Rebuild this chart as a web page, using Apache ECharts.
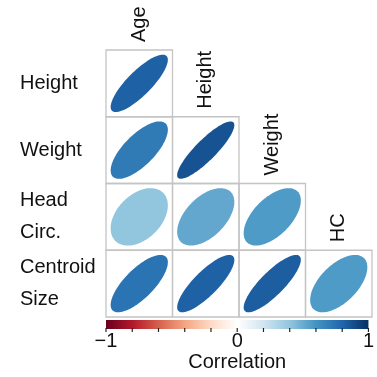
<!DOCTYPE html>
<html>
<head>
<meta charset="utf-8">
<script src="https://cdn.jsdelivr.net/npm/echarts@6/dist/echarts.min.js"></script>
<style>
html,body{margin:0;padding:0;background:#fff;}
#chart{width:377px;height:377px;}
</style>
</head>
<body>
<div id="chart"></div>
<script>
// Column (x) variables and row (y) variables of the lower-triangle correlation matrix
const colVars = ['Age', 'Height', 'Weight', 'HC'];
const rowVars = ['Height', 'Weight', 'Head\nCirc.', 'Centroid\nSize'];
// Correlations of each row variable with the column variables (left to right)
const corrHeight = [0.82];
const corrWeight = [0.71, 0.87];
const corrHeadCirc = [0.40, 0.52, 0.57];
const corrCentroid = [0.74, 0.82, 0.83, 0.57];
// Colour bar tick positions and labelled ticks
const barTicks = [-1, -0.8, -0.6, -0.4, -0.2, 0, 0.2, 0.4, 0.6, 0.8, 1];
const barTickLabels = [-1, 0, 1];
const palette = ['#67001F', '#B2182B', '#D6604D', '#F4A582', '#FDDBC7', '#FFFFFF',
                 '#D1E5F0', '#92C5DE', '#4393C3', '#2166AC', '#053061'];

const rows = [corrHeight, corrWeight, corrHeadCirc, corrCentroid];
const cells = [];
rows.forEach((vals, r) => vals.forEach((v, c) => cells.push([c, r, v])));
const diagLabels = colVars.map((name, i) => [i, i, name]);

const FONT = 'Liberation Sans, Arial, sans-serif';
const chart = echarts.init(document.getElementById('chart'), null, {renderer: 'canvas'});

chart.setOption({
  animation: false,
  backgroundColor: '#fff',
  grid: [
    {left: 106, right: 5, top: 50, bottom: 60},
    {left: 106, right: 5, top: 320, height: 9}
  ],
  xAxis: [
    {type: 'category', data: colVars, gridIndex: 0, show: false},
    {type: 'value', gridIndex: 1, min: -1, max: 1, interval: 1,
     axisLine: {show: false}, splitLine: {show: false}, axisTick: {show: false},
     axisLabel: {margin: 2, fontSize: 20, fontFamily: FONT, color: '#111',
       formatter: v => {
         const k = Math.round(v);
         if (Math.abs(v - k) > 1e-6 || barTickLabels.indexOf(k) < 0) return '';
         return k < 0 ? '\u2212' + Math.abs(k) : String(k);
       }},
     name: 'Correlation', nameLocation: 'middle', nameGap: 23,
     nameTextStyle: {fontSize: 20, fontFamily: FONT, color: '#111'}}
  ],
  yAxis: [
    {type: 'category', data: rowVars, gridIndex: 0, inverse: true,
     axisLine: {show: false}, axisTick: {show: false}, splitLine: {show: false},
     axisLabel: {align: 'left', margin: 86, fontSize: 20, lineHeight: 32,
                 fontFamily: FONT, color: '#111'}},
    {type: 'value', gridIndex: 1, min: 0, max: 1, show: false}
  ],
  visualMap: {
    show: false, type: 'continuous', min: -1, max: 1, dimension: 2,
    seriesIndex: 0, inRange: {color: palette}
  },
  series: [
    {
      type: 'custom', xAxisIndex: 0, yAxisIndex: 0, data: cells,
      renderItem: (params, api) => {
        const c = api.coord([api.value(0), api.value(1)]);
        const sz = api.size([1, 1]);
        const w = sz[0], h = sz[1];
        const r = api.value(2);
        const d = Math.acos(r);
        const s = 0.43;
        const pts = [];
        for (let i = 0; i < 100; i++) {
          const t = i / 100 * Math.PI * 2;
          pts.push([c[0] + s * w * Math.cos(t + d / 2), c[1] - s * h * Math.cos(t - d / 2)]);
        }
        return {
          type: 'group',
          children: [
            {type: 'rect', shape: {x: c[0] - w / 2, y: c[1] - h / 2, width: w, height: h},
             style: {fill: 'none', stroke: '#c4c4c4', lineWidth: 1.3}},
            {type: 'polygon', shape: {points: pts},
             style: {fill: api.visual('color'), stroke: null}}
          ]
        };
      }
    },
    {
      type: 'custom', xAxisIndex: 0, yAxisIndex: 0, data: diagLabels,
      renderItem: (params, api) => {
        const c = api.coord([api.value(0), api.value(1)]);
        const sz = api.size([1, 1]);
        return {
          type: 'text', x: c[0], y: c[1] - sz[1] / 2 - 8, rotation: Math.PI / 2,
          style: {text: diagLabels[params.dataIndex][2], fontSize: 20, fontFamily: FONT,
                  fill: '#111', align: 'left', verticalAlign: 'middle'}
        };
      }
    },
    {
      type: 'custom', xAxisIndex: 1, yAxisIndex: 1, data: [[-1, 0, 1, 1]],
      renderItem: (params, api) => {
        const p0 = api.coord([api.value(0), api.value(1)]);
        const p1 = api.coord([api.value(2), api.value(3)]);
        const stops = palette.map((col, i) => ({offset: i / (palette.length - 1), color: col}));
        return {
          type: 'rect',
          shape: {x: p0[0], y: p1[1], width: p1[0] - p0[0], height: p0[1] - p1[1]},
          style: {fill: new echarts.graphic.LinearGradient(0, 0, 1, 0, stops), stroke: null}
        };
      }
    },
    {
      type: 'custom', xAxisIndex: 1, yAxisIndex: 1, data: barTicks.map(v => [v, 0]),
      z: 5,
      renderItem: (params, api) => {
        const p = api.coord([api.value(0), api.value(1)]);
        return {
          type: 'line',
          shape: {x1: p[0], y1: p[1] - 1, x2: p[0], y2: p[1] + 3},
          style: {stroke: '#222', lineWidth: 1.2}
        };
      }
    }
  ]
});
</script>
</body>
</html>
